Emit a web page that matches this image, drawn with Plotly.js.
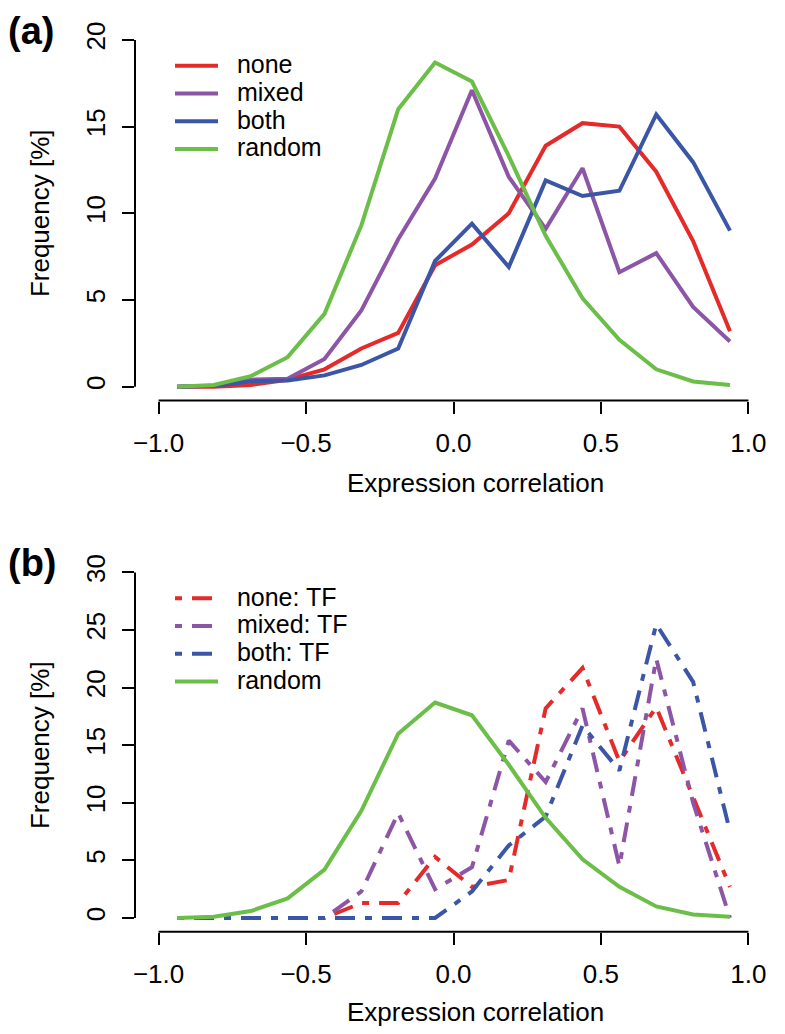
<!DOCTYPE html>
<html><head><meta charset="utf-8">
<script src="https://cdn.plot.ly/plotly-3.0.1.min.js"></script>
<style>html,body{margin:0;padding:0;background:#fff}</style>
</head><body>
<div id="chart" style="width:785px;height:1034px"></div>
<script>
// ---- data ----
const binCenters = [-0.9375,-0.8125,-0.6875,-0.5625,-0.4375,-0.3125,-0.1875,-0.0625,0.0625,0.1875,0.3125,0.4375,0.5625,0.6875,0.8125,0.9375];

// panel (a)
const noneA   = [0, 0, 0.1, 0.4, 1.0, 2.2, 3.1, 7.0, 8.2, 10.0, 13.9, 15.2, 15.0, 12.4, 8.4, 3.2];
const mixedA  = [0, 0.05, 0.4, 0.45, 1.6, 4.4, 8.5, 12.0, 17.1, 12.1, 9.1, 12.6, 6.6, 7.7, 4.6, 2.6];
const bothA   = [0, 0.05, 0.3, 0.35, 0.65, 1.25, 2.2, 7.25, 9.4, 6.9, 11.9, 11.0, 11.3, 15.7, 12.95, 9.0];
const randomA = [0, 0.1, 0.6, 1.7, 4.2, 9.3, 16.0, 18.7, 17.6, 13.3, 8.7, 5.1, 2.7, 1.0, 0.3, 0.1];

// panel (b)
const noneTF  = [0, 0, 0, 0, 0, 1.3, 1.3, 5.3, 2.7, 3.3, 18.2, 21.7, 13.6, 18.3, 10.6, 2.7];
const mixedTF = [0, 0, 0, 0, 0, 2.3, 9.1, 2.5, 4.4, 15.4, 11.8, 18.2, 4.5, 22.5, 10.0, 0];
const bothTF  = [0, 0, 0, 0, 0, 0, 0, 0, 2.3, 6.3, 8.8, 16.7, 12.8, 25.5, 20.5, 7.5];
const randomB = randomA;

const namesA = ['none', 'mixed', 'both', 'random'];
const namesB = ['none: TF', 'mixed: TF', 'both: TF', 'random'];

const xTickVals = [-1, -0.5, 0, 0.5, 1];
const xTickText = ['\u22121.0', '\u22120.5', '0.0', '0.5', '1.0'];
const yTicksA = [0, 5, 10, 15, 20];
const yTicksB = [0, 5, 10, 15, 20, 25, 30];

const xTitle = 'Expression correlation';
const yTitle = 'Frequency [%]';
const panelLabels = ['(a)', '(b)'];

// ---- styling ----
const W = 785, H = 1034;
const FONT = 'Liberation Sans, Arial, Helvetica, sans-serif';
const FS = 26;
const LEG_FS = 25;
const colors = {none: '#E52A2A', mixed: '#8C55A6', both: '#3B56A6', random: '#6BBE48'};
const LW = 4;
const dotdash = '7px,10px,20px,10px';
const px = p => p / W;
const py = p => 1 - p / H;
const lbl = t => '<span style="font-size:' + LEG_FS + 'px">\u00a0\u00a0' + t + '</span>';

function tr(y, name, color, xa, ya, leg, dash) {
  return {
    x: binCenters, y: y, name: lbl(name), type: 'scatter', mode: 'lines',
    line: {color: color, width: LW, dash: dash || 'solid'},
    xaxis: xa, yaxis: ya, legend: leg, hoverinfo: 'skip'
  };
}

const data = [
  tr(noneA,   namesA[0], colors.none,   'x', 'y', 'legend'),
  tr(mixedA,  namesA[1], colors.mixed,  'x', 'y', 'legend'),
  tr(bothA,   namesA[2], colors.both,   'x', 'y', 'legend'),
  tr(randomA, namesA[3], colors.random, 'x', 'y', 'legend'),
  tr(noneTF,  namesB[0], colors.none,   'x2', 'y2', 'legend2', dotdash),
  tr(mixedTF, namesB[1], colors.mixed,  'x2', 'y2', 'legend2', dotdash),
  tr(bothTF,  namesB[2], colors.both,   'x2', 'y2', 'legend2', dotdash),
  tr(randomB, namesB[3], colors.random, 'x2', 'y2', 'legend2')
];

function xax(anchor) {
  return {
    domain: [px(135), px(772)], range: [-1.08, 1.08], anchor: anchor,
    tickvals: xTickVals, ticktext: xTickText, ticks: 'outside', ticklen: 12, tickwidth: 2,
    tickcolor: '#000', showline: false, showgrid: false, zeroline: false,
    tickfont: {family: FONT, size: FS, color: '#000'}, ticklabelstandoff: 7
  };
}
function yax(anchor, range, dom, ticks) {
  return {
    domain: dom, range: range, anchor: anchor,
    tickvals: ticks, ticktext: ticks.map(String), ticks: 'outside', ticklen: 12, tickwidth: 2,
    tickcolor: '#000', showline: false, showgrid: false, zeroline: false, tickangle: -90,
    tickfont: {family: FONT, size: FS, color: '#000'}, ticklabelstandoff: 7,
    title: {text: yTitle, font: {family: FONT, size: FS, color: '#000'}, standoff: 23}
  };
}

function axisLines(xr, yr, yt) {
  const xd = xr + ' domain', yd = yr + ' domain';
  return [
    {type: 'line', xref: xr, yref: yd, x0: xTickVals[0], x1: xTickVals[xTickVals.length - 1], y0: 0, y1: 0,
     line: {color: '#000', width: 2}},
    {type: 'line', xref: xd, yref: yr, x0: 0, x1: 0, y0: yt[0], y1: yt[yt.length - 1],
     line: {color: '#000', width: 2}}
  ];
}

function legend(topPx) {
  return {
    x: px(170), y: py(topPx), xanchor: 'left', yanchor: 'top',
    font: {family: FONT, size: 19, color: '#000'}, bgcolor: 'rgba(0,0,0,0)',
    borderwidth: 0, itemwidth: 43, tracegroupgap: 0
  };
}

const layout = {
  width: W, height: H,
  margin: {l: 0, r: 0, t: 0, b: 0},
  paper_bgcolor: '#fff', plot_bgcolor: 'rgba(0,0,0,0)',
  font: {family: FONT, size: FS, color: '#000'},
  showlegend: true, hovermode: false,
  xaxis: xax('y'),
  yaxis: yax('x', [-0.8, 20.8], [py(400.5), py(26.1)], yTicksA),
  xaxis2: xax('y2'),
  yaxis2: yax('x2', [-1.2, 31.2], [py(931.8), py(558.6)], yTicksB),
  legend: legend(47),
  legend2: legend(579.5),
  shapes: axisLines('x', 'y', yTicksA).concat(axisLines('x2', 'y2', yTicksB)),
  annotations: [
    {text: xTitle, xref: 'paper', yref: 'paper', x: px(475), y: py(483), xanchor: 'center', yanchor: 'middle',
     showarrow: false, font: {family: FONT, size: FS, color: '#000'}},
    {text: xTitle, xref: 'paper', yref: 'paper', x: px(475), y: py(1012), xanchor: 'center', yanchor: 'middle',
     showarrow: false, font: {family: FONT, size: FS, color: '#000'}},
    {text: '<b>' + panelLabels[0] + '</b>', xref: 'paper', yref: 'paper', x: px(31), y: py(31), xanchor: 'center', yanchor: 'middle',
     showarrow: false, font: {family: FONT, size: 38, color: '#000'}},
    {text: '<b>' + panelLabels[1] + '</b>', xref: 'paper', yref: 'paper', x: px(32), y: py(563), xanchor: 'center', yanchor: 'middle',
     showarrow: false, font: {family: FONT, size: 38, color: '#000'}}
  ]
};

Plotly.newPlot('chart', data, layout, {staticPlot: true, displayModeBar: false});
</script>
</body></html>
